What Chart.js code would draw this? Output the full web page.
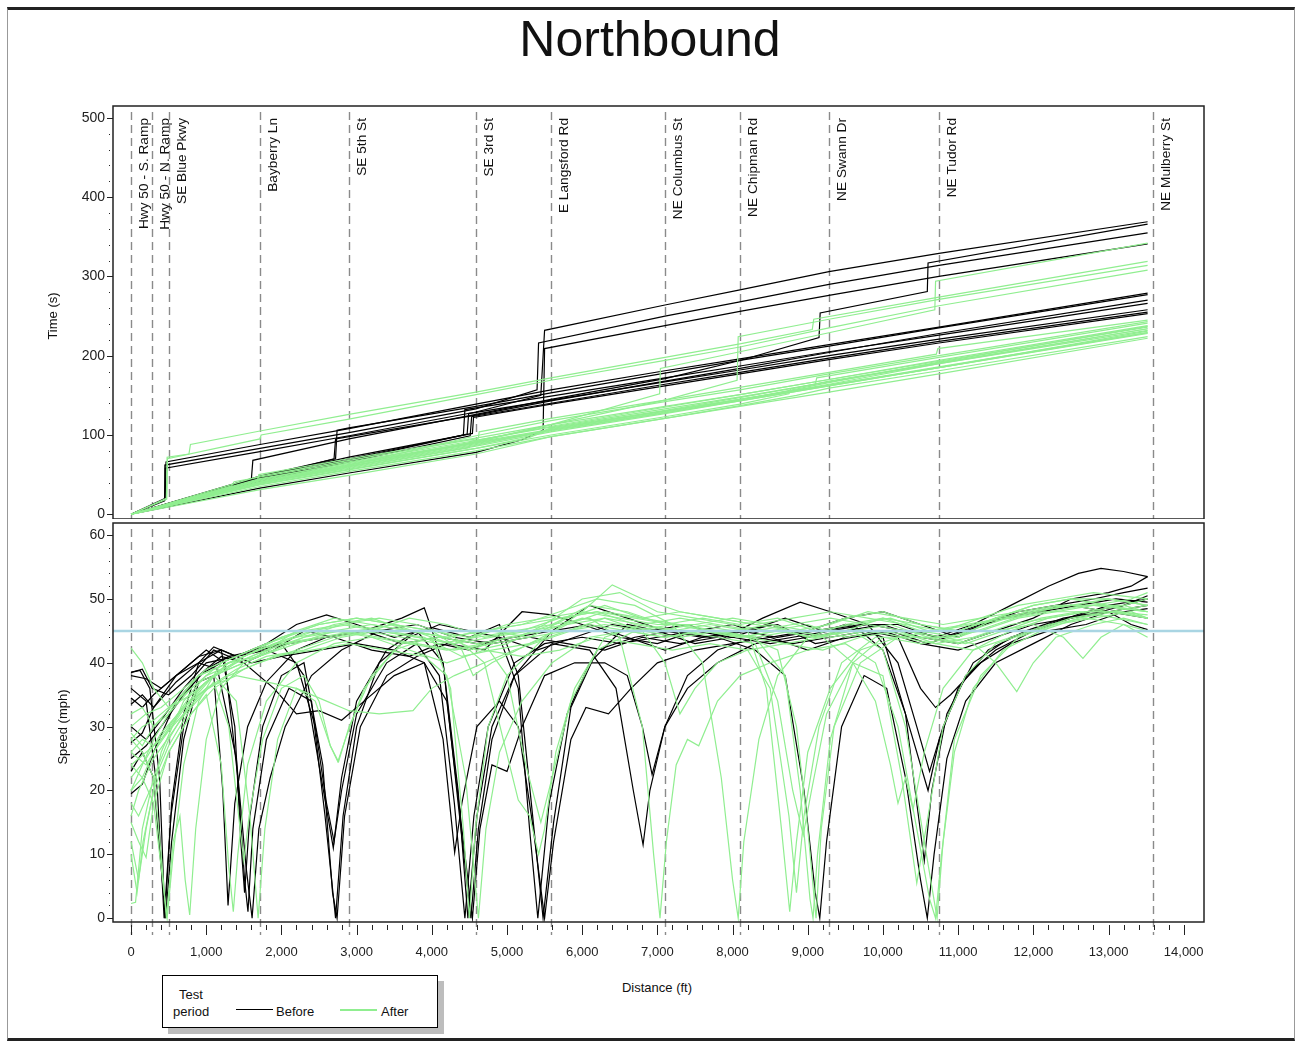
<!DOCTYPE html>
<html>
<head>
<meta charset="utf-8">
<script src="https://cdn.jsdelivr.net/npm/chart.js@4.4.1/dist/chart.umd.min.js"></script>
<style>
	html, body { margin: 0; padding: 0; background: #fff; }
	body { width: 1295px; height: 1045px; position: relative; overflow: hidden; font-family: "Liberation Sans", Arial, sans-serif; color: #111; }
	#frame { position: absolute; left: 7px; top: 7px; width: 1286px; height: 1028px; border-top: 3px solid #222; border-bottom: 3px solid #222; border-left: 1px solid #999; border-right: 1px solid #999; }
	#title { position: absolute; left: 0; width: 1300px; top: 14px; line-height: 50px; font-size: 50px; text-align: center; }
	canvas { position: absolute; left: 0; }
	#chart-time { top: 100px; }
	#chart-speed { top: 520px; }
	.axis-title { position: absolute; font-size: 13px; white-space: nowrap; transform: translate(-50%, -50%); }
	.rot { transform: translate(-50%, -50%) rotate(-90deg); }
	#legend { position: absolute; left: 162px; top: 975px; width: 274px; height: 51px; border: 1px solid #000; background: #fff; box-shadow: 6px 6px 0 #bdbdbd; }
	#legend span { position: absolute; font-size: 13px; line-height: 15px; white-space: nowrap; }
	#legend i { position: absolute; height: 0; width: 37px; }
</style>
</head>
<body>
<div id="frame"></div>
<div id="title">Northbound</div>
<canvas id="chart-time" width="1230" height="419"></canvas>
<canvas id="chart-speed" width="1230" height="450"></canvas>
<div class="axis-title rot" style="left:52px; top:316px;">Time (s)</div>
<div class="axis-title rot" style="left:62px; top:727px;">Speed (mph)</div>
<div class="axis-title" style="left:657px; top:987px;">Distance (ft)</div>
<div id="legend">
	<span style="left:16px; top:11px;">Test</span>
	<span style="left:10px; top:28px;">period</span>
	<i style="left:73px; top:33px; border-top:1.5px solid #000;"></i>
	<span style="left:113px; top:28px;">Before</span>
	<i style="left:177px; top:33px; border-top:2px solid #90ee90;"></i>
	<span style="left:218px; top:28px;">After</span>
</div>
<script>
// Cross streets along the corridor (ft)
const ROAD_DIST = [0, 279, 505, 1715, 2899, 4588, 5585, 7101, 8098, 9282, 10745, 13590];
const ROAD_NAMES = ["Hwy 50 - S. Ramp", "Hwy 50 - N. Ramp", "SE Blue Pkwy", "Bayberry Ln", "SE 5th St", "SE 3rd St", "E Langsford Rd", "NE Columbus St", "NE Chipman Rd", "NE Swann Dr", "NE Tudor Rd", "NE Mulberry St"];

// Axis ticks
const DIST_TICKS = [0, 1000, 2000, 3000, 4000, 5000, 6000, 7000, 8000, 9000, 10000, 11000, 12000, 13000, 14000];
const TIME_TICKS = [0, 100, 200, 300, 400, 500];
const SPEED_TICKS = [0, 10, 20, 30, 40, 50, 60];
const SPEED_LIMIT = 45;

// Before runs: [distance ft, elapsed time s]
const BEFORE_TIME = [
	[[0,0],[445,17],[455,58],[1715,79],[2899,99],[4588,129],[5450,150],[5500,232],[7101,264],[8098,283],[9282,306],[10745,329],[13520,369]],
	[[0,0],[440,18],[450,62],[1715,83],[2899,103],[4588,133],[5400,157],[5420,216],[7101,250],[8098,268],[9282,290],[10745,314],[13520,355]],
	[[0,0],[1715,33],[2899,52],[4588,78],[5200,94],[5480,106],[5500,209],[7101,238],[8098,256],[9282,276],[10745,300],[13520,341]],
	[[0,0],[1600,44],[1620,68],[2899,95],[4588,126],[5585,145],[7101,171],[8098,194],[9150,223],[9165,254],[10590,281],[10600,317],[13520,366]],
	[[0,0],[455,20],[465,66],[1715,88],[2899,108],[4588,139],[5585,157],[7101,181],[8098,196],[9282,214],[10745,236],[13520,279]],
	[[0,0],[1715,48],[2720,70],[2740,106],[2899,109],[4588,136],[5585,153],[7101,178],[8098,194],[9282,212],[10745,235],[13520,277]],
	[[0,0],[1715,46],[2700,70],[2720,95],[2899,98],[4588,125],[5585,143],[7101,168],[8098,184],[9282,204],[10745,228],[13520,270]],
	[[0,0],[1715,45],[2899,70],[4420,100],[4440,132],[5585,149],[7101,172],[8098,187],[9282,205],[10745,226],[13520,266]],
	[[0,0],[1715,44],[2899,68],[4470,101],[4490,127],[5585,144],[7101,167],[8098,182],[9282,200],[10745,221],[13520,258]],
	[[0,0],[1715,42],[2899,66],[4510,99],[4530,123],[5585,140],[7101,164],[8098,179],[9282,197],[10745,218],[13520,255]],
	[[0,0],[1715,47],[2899,72],[4540,102],[4555,122],[5585,139],[7101,162],[8098,177],[9282,195],[10745,216],[13520,253]],
];

// After runs: [distance ft, elapsed time s]
const AFTER_TIME = [
	[[0,0],[470,20],[480,72],[770,76],[790,88],[1715,105],[2899,126],[4588,154],[5585,172],[7101,198],[8098,215],[9060,233],[9080,246],[10745,274],[13520,319]],
	[[0,0],[475,19],[485,70],[1715,95],[1730,100],[2899,120],[4588,151],[5585,169],[7101,194],[8098,211],[9282,235],[10745,263],[13520,308]],
	[[0,0],[1715,42],[2899,62],[4588,92],[5585,113],[7101,144],[8060,169],[8075,224],[9282,246],[10745,271],[13520,314]],
	[[0,0],[1715,40],[2899,60],[4588,91],[5585,113],[7030,152],[7040,184],[8098,205],[9282,229],[10690,258],[10700,294],[13520,342]],
	[[0,0],[1715,31],[2899,49],[4588,76],[5585,98],[7101,121],[8098,136],[9282,154],[10745,177],[13520,222]],
	[[0,0],[1715,40],[2899,58],[4500,84],[4510,92],[5585,110],[7101,133],[8098,148],[9282,167],[10745,190],[13520,232]],
	[[0,0],[1340,36],[1370,41],[1715,47],[2899,66],[4588,93],[5585,111],[7101,135],[8098,151],[9282,170],[10745,194],[13520,238]],
	[[0,0],[1715,44],[2899,65],[4588,91],[5585,107],[7101,130],[8098,145],[9282,163],[10745,185],[13520,228]],
	[[0,0],[1680,42],[1700,50],[2899,70],[4588,96],[5585,113],[7101,136],[8098,151],[9282,170],[10745,193],[13520,236]],
	[[0,0],[1715,40],[2899,62],[4588,99],[5585,118],[7101,142],[8098,157],[9282,177],[10745,200],[13520,243]],
	[[0,0],[1715,38],[2899,57],[4588,83],[5300,97],[5585,108],[7101,130],[8098,145],[9282,163],[10745,186],[13520,229]],
	[[0,0],[1715,37],[2899,56],[4588,83],[5585,100],[7101,123],[8098,139],[8750,152],[8770,158],[9282,168],[10745,191],[13520,234]],
	[[0,0],[1715,41],[2899,61],[4588,88],[5585,105],[7101,128],[8098,144],[9282,166],[10745,192],[13520,237]],
	[[0,0],[1715,45],[2899,64],[4588,90],[5585,106],[7101,129],[8098,145],[9282,164],[10745,190],[13520,234]],
	[[0,0],[1715,39],[2899,59],[4588,86],[5585,104],[7101,127],[8098,143],[9282,162],[10745,185],[13520,231]],
	[[0,0],[1715,43],[2899,63],[4588,89],[5585,106],[7101,128],[8098,143],[9282,162],[10745,185],[13520,229]],
	[[0,0],[1715,48],[2899,68],[4588,95],[4620,96],[4630,104],[5585,121],[7101,144],[8098,160],[9282,179],[10710,202],[10730,209],[13520,245]],
	[[0,0],[1715,35],[2899,54],[4588,80],[5585,98],[7101,121],[8098,137],[8850,150],[9282,159],[10745,181],[13520,224]],
	[[0,0],[1715,40],[2899,60],[4588,87],[5450,104],[5585,109],[7101,131],[8098,147],[9100,164],[9120,172],[10745,198],[13520,241]],
];

// Before runs: [distance ft, speed mph]
const BEFORE_SPEED = [
	[[0,38.5],[120,38.8],[250,36],[380,22],[450,0],[540,18],[700,32],[900,40],[1100,42.5],[1400,41],[1800,43],[2200,46],[2600,47.5],[3000,46],[3500,44],[4000,45.5],[4500,44],[4900,46],[5150,38],[5350,15],[5480,0],[5620,15],[5850,33],[6200,42],[6700,44],[7200,45],[7700,44],[8200,45],[8700,47],[9200,45],[9700,46],[10200,46],[10700,44],[11200,46],[11700,49],[12200,52],[12600,54],[12900,54.8],[13200,54.3],[13520,53.5]],
	[[0,36],[200,34],[350,20],[440,0],[530,16],[700,30],[900,38],[1200,41],[1500,40],[1900,42],[2300,45],[2700,44],[3200,42],[3700,41],[4100,43],[4500,42],[4900,44],[5150,36],[5300,14],[5410,0],[5560,18],[5800,32],[6100,40],[6600,46],[7000,45],[7500,43],[8000,44],[8500,43],[9000,44],[9500,45],[10000,46],[10500,44],[11000,43],[11500,45],[12000,47],[12500,50],[13000,51],[13300,52],[13520,53.5]],
	[[0,34.5],[150,33],[300,35],[600,38],[900,40],[1200,42],[1600,40],[2000,41],[2500,42],[3000,43],[3500,42],[3900,40],[4150,28],[4304,10.3],[4400,18],[4600,30],[4900,34],[5150,30],[5350,14],[5500,0],[5620,12],[5850,28],[6050,33],[6350,32],[6650,36],[7000,40],[7500,42],[8000,43],[8500,44],[9000,42],[9500,44],[10000,45],[10500,43],[11000,42],[11500,44],[12000,46],[12500,47],[13000,48],[13520,47]],
	[[0,27.5],[150,29],[300,33],[600,37],[900,40],[1150,39],[1400,25],[1530,8],[1610,0],[1700,14],[1850,22],[2050,30],[2400,38],[2800,42],[3300,45],[3800,46],[4300,44],[4800,43],[5300,44],[5800,43],[6300,42],[6800,44],[7300,43],[7800,44],[8300,42],[8700,38],[8950,20],[9100,4],[9160,0],[9250,12],[9450,30],[9750,38],[10050,36],[10300,22],[10500,6],[10590,0],[10680,10],[10850,25],[11100,34],[11500,40],[12000,43],[12500,46],[13000,48],[13520,49]],
	[[0,23],[150,26],[300,22],[400,8],[460,0],[540,12],[700,28],[900,37],[1100,38],[1220,20],[1290,2],[1380,18],[1550,30],[1800,37],[2200,42],[2600,44],[3100,45],[3600,43],[4100,44],[4600,43],[5100,44],[5600,45],[6100,46],[6600,44],[7100,42],[7600,44],[8100,45],[8600,46],[9100,43],[9600,44],[10100,45],[10600,43],[11100,45],[11600,47],[12100,48],[12600,49],[13100,50],[13520,49.5]],
	[[0,33.5],[150,35],[300,33],[600,38],[900,41],[1200,42],[1380,30],[1460,12],[1510,4],[1580,16],[1750,30],[2000,38],[2300,40],[2550,24],[2680,4],[2740,0],[2840,16],[3050,30],[3400,38],[3800,41],[4200,43],[4700,42],[5200,48],[5600,47.5],[6000,46],[6500,44],[7000,43],[7500,45],[8000,46],[8500,44],[9000,45],[9500,47],[10000,48],[10500,46],[11000,44],[11500,47],[12000,48],[12500,49],[13000,48],[13300,46],[13520,45.2]],
	[[0,38],[200,37.5],[400,36],[700,39],[1000,42],[1250,40],[1420,22],[1510,6],[1555,1],[1620,14],[1800,28],[2100,36],[2400,34],[2580,16],[2720,0],[2820,16],[3000,30],[3300,40],[3700,44],[4100,46],[4500,45],[4900,44],[5400,42],[5900,44],[6400,46],[6900,45],[7400,46],[7900,44],[8400,47],[8900,49.5],[9300,48],[9800,46],[10300,45],[10800,44],[11300,46],[11800,48],[12300,49],[12800,50],[13200,51],[13520,51.7]],
	[[0,30],[200,28],[400,31],[700,36],[1000,40],[1400,41],[1800,42],[2200,40],[2450,30],[2600,18],[2700,12],[2800,20],[3000,32],[3400,40],[3800,43],[4100,38],[4300,18],[4440,0],[4560,16],[4750,30],[5100,40],[5500,43],[6000,44],[6500,43],[7000,44],[7500,45],[8000,44],[8500,46],[9000,44],[9500,46],[10000,44],[10300,32],[10450,18],[10550,9],[10650,20],[10850,32],[11200,40],[11700,44],[12200,46],[12700,48],[13200,49],[13520,50.5]],
	[[0,19.5],[150,21],[300,26],[600,34],[900,38],[1200,40],[1600,42],[2000,43],[2300,38],[2500,24],[2690,11],[2800,22],[3000,34],[3400,42],[3800,45],[4150,40],[4350,20],[4480,0],[4600,16],[4800,30],[5100,38],[5600,45],[6100,49],[6600,47],[7100,45],[7600,44],[8100,45],[8600,44],[9100,45],[9600,46],[10000,42],[10300,32],[10600,20],[10750,28],[11000,36],[11400,42],[11900,45],[12400,47],[12900,48],[13520,50]],
	[[0,25],[200,27],[400,30],[700,35],[1000,39],[1300,41],[1700,42],[2100,43],[2600,44],[3100,45],[3600,47],[3900,48.6],[4150,40],[4350,18],[4520,0],[4620,14],[4800,28],[5100,38],[5600,43],[6100,42],[6450,36],[6680,20],[6810,11.5],[6900,20],[7100,30],[7400,36],[7800,40],[8300,43],[8800,44],[9300,45],[9800,46],[10200,40],[10450,30],[10620,23],[10800,30],[11100,38],[11500,42],[12000,45],[12500,47],[13000,49],[13520,50]],
	[[0,38.5],[150,39],[280,36],[500,35],[800,38],[1100,42],[1500,40],[1900,36],[2200,32],[2500,32.5],[2800,31],[3100,34],[3500,38],[3900,40],[4200,34],[4400,14],[4540,0],[4640,14],[4800,24],[5000,23],[5200,30],[5500,38],[5900,40],[6300,40],[6600,38],[6800,30],[6930,22.5],[7100,30],[7400,38],[7800,42],[8300,44],[8800,43],[9300,44],[9800,45],[10200,44],[10500,36],[10700,33],[10900,35],[11300,40],[11700,43],[12200,45],[12700,46],[13200,48],[13520,48.5]],
];

// After runs: [distance ft, speed mph]
const AFTER_SPEED = [
	[[0,28],[150,26],[300,22],[400,10],[470,0],[560,12],[650,16],[720,6],[780,0.5],[860,14],[1000,28],[1200,36],[1500,40],[1900,42],[2300,44],[2800,46],[3300,45],[3800,44],[4300,43],[4800,45],[5300,44],[5800,47],[6300,49],[6800,47],[7300,46],[7800,45],[8300,44],[8700,38],[8900,20],[9030,3],[9070,0],[9130,10],[9300,28],[9600,40],[10000,44],[10500,43],[11000,44],[11500,46],[12000,48],[12500,49],[13000,48],[13520,47]],
	[[0,24],[150,22],[300,18],[420,6],[480,0],[560,10],[700,24],[900,34],[1200,40],[1600,42],[2000,44],[2500,46],[3000,47],[3500,46],[4000,45],[4500,44],[5000,46],[5500,47],[6000,48],[6500,47],[7000,46],[7500,46],[8000,45],[8500,46],[9000,44],[9500,45],[10000,47],[10500,45],[11000,44],[11500,47],[12000,49],[12500,50],[13000,49],[13520,48]],
	[[0,12],[100,6],[200,14],[400,26],[700,34],[1000,38],[1400,40],[1800,42],[2200,45],[2700,47],[3200,46],[3700,45],[4200,44],[4700,45],[5200,46],[5700,48],[6200,50],[6700,49],[7200,46],[7600,40],[7850,22],[8000,6],[8075,0],[8150,12],[8350,28],[8600,38],[9000,44],[9500,46],[10000,47],[10500,46],[11000,45],[11500,47],[12000,49],[12500,50],[13000,50],[13520,49]],
	[[0,20],[150,24],[300,28],[600,34],[900,38],[1300,40],[1700,41],[2100,43],[2600,44],[3100,45],[3600,44],[4100,43],[4600,44],[5100,45],[5600,46],[6100,47],[6500,44],[6800,30],[6950,10],[7035,0],[7120,12],[7250,24],[7400,28],[7550,27],[7800,34],[8100,38],[8500,40],[9000,42],[9500,43],[9900,40],[10200,30],[10450,14],[10620,3],[10700,0],[10780,10],[10950,26],[11200,36],[11600,42],[12100,45],[12600,47],[13100,48],[13520,47.5]],
	[[0,42.3],[150,40],[300,36],[500,33],[800,35],[1100,38],[1500,40],[2000,43],[2500,44],[3000,45],[3500,46],[4000,45],[4400,42],[4550,38],[4800,40],[5300,43],[5800,46],[6300,48],[6800,47],[7300,48],[7800,47],[8300,46],[8800,47],[9300,48],[9800,47],[10300,46],[10800,45],[11300,47],[11800,49],[12300,50],[12800,51],[13520,50]],
	[[0,2.3],[60,2.5],[150,14],[300,22],[500,28],[800,34],[1100,38],[1500,41],[2000,44],[2500,46],[3000,47],[3500,46],[4000,44],[4250,36],[4420,14],[4500,0],[4580,14],[4750,30],[5000,38],[5500,44],[6000,48],[6400,52.2],[6800,50],[7300,48],[7800,47],[8300,46],[8800,45],[9300,46],[9800,48],[10300,47],[10800,46],[11300,47],[11800,48],[12300,49],[12800,49],[13520,48]],
	[[0,15],[100,12],[200,9.5],[300,18],[500,26],[800,32],[1000,35],[1200,24],[1300,8],[1360,1],[1420,10],[1550,24],[1800,34],[2200,40],[2700,43],[3200,44],[3700,42],[4200,40],[4700,42],[5200,41],[5700,42],[6200,44],[6700,43],[7200,42],[7700,43],[8200,42],[8700,43],[9200,42],[9700,44],[10200,45],[10700,43],[11200,42],[11700,44],[12200,46],[12700,47],[13200,46],[13520,45]],
	[[0,18],[100,16],[250,20],[500,27],[800,33],[1100,37],[1300,30],[1450,14],[1500,9],[1570,16],[1750,28],[2000,36],[2300,38],[2500,34],[2650,27],[2750,24.5],[2850,28],[3100,36],[3500,42],[4000,44],[4500,42],[5000,44],[5500,45],[6000,47],[6500,46],[7000,45],[7500,46],[8000,47],[8500,46],[9000,45],[9500,47],[10000,48],[10500,46],[11000,45],[11500,47],[12000,48],[12500,49],[13000,50],[13520,49]],
	[[0,26],[150,28],[300,27],[500,30],[800,35],[1100,38],[1400,34],[1580,16],[1690,0],[1780,14],[1950,28],[2200,36],[2450,34],[2650,27],[2760,24.5],[2900,30],[3200,38],[3600,43],[4100,44],[4600,43],[5100,44],[5600,46],[6100,49],[6600,48],[7100,46],[7600,47],[8100,46],[8600,47],[9100,45],[9600,46],[10100,47],[10600,45],[11100,46],[11600,47],[12100,48],[12600,48],[13100,47],[13520,46]],
	[[0,22],[200,25],[400,29],[700,33],[1000,36],[1400,38],[1800,37],[2200,36],[2600,34],[2900,32.5],[3300,32],[3750,32.5],[4000,36],[4300,38],[4700,40],[5100,42],[5600,44],[6100,46],[6600,45],[7100,44],[7600,45],[8100,44],[8600,45],[9100,44],[9600,45],[10100,46],[10600,44],[11100,43],[11600,45],[12100,47],[12600,48],[13100,48],[13520,47]],
	[[0,30],[200,32],[400,33],[700,36],[1000,39],[1400,41],[1800,43],[2300,45],[2800,46],[3300,47],[3800,46],[4300,44],[4700,40],[4950,28],[5150,18.5],[5300,16],[5420,10],[5500,14],[5650,26],[5900,36],[6300,44],[6800,46],[7300,47],[7800,46],[8300,45],[8800,46],[9300,47],[9800,46],[10300,45],[10800,44],[11300,45],[11800,47],[12300,48],[12800,49],[13300,50],[13520,51]],
	[[0,28],[150,30],[300,31],[600,34],[900,37],[1300,39],[1700,41],[2200,43],[2700,45],[3200,46],[3700,45],[4200,44],[4700,45],[5200,46],[5700,47],[6200,48],[6700,46],[7200,45],[7700,46],[8200,45],[8450,36],[8650,14],[8760,1],[8850,12],[9000,26],[9300,36],[9700,42],[10200,44],[10700,43],[11200,44],[11700,46],[12200,47],[12700,48],[13200,48],[13520,47]],
	[[0,24],[200,26],[400,28],[700,32],[1000,36],[1400,39],[1800,41],[2300,42],[2800,44],[3300,45],[3800,44],[4300,43],[4800,44],[5300,45],[5800,46],[6300,47],[6800,46],[7300,45],[7800,44],[8300,43],[8600,34],[8800,20],[8940,13],[9050,20],[9250,32],[9600,40],[10000,38],[10250,22],[10450,5.5],[10600,16],[10800,30],[11100,38],[11500,43],[12000,45],[12500,47],[13000,48],[13520,49]],
	[[0,16],[100,20],[300,25],[600,30],[900,35],[1300,38],[1700,40],[2200,42],[2700,44],[3200,45],[3700,47],[4200,46],[4700,44],[5200,45],[5700,47],[6200,48],[6700,47],[7200,46],[7700,45],[8200,44],[8700,43],[9200,44],[9600,40],[9900,34],[10100,24],[10200,18],[10300,22],[10400,17],[10550,26],[10800,36],[11200,42],[11700,45],[12200,47],[12700,48],[13200,49],[13520,48]],
	[[0,26],[200,24],[400,28],[700,33],[1000,37],[1400,40],[1800,42],[2300,44],[2800,45],[3300,44],[3800,43],[4300,42],[4800,43],[5300,44],[5800,45],[6300,46],[6800,45],[7300,44],[7800,45],[8300,44],[8800,45],[9300,44],[9800,45],[10300,44],[10800,44],[11200,43],[11500,40],[11780,35.5],[12000,40],[12300,44],[12800,46],[13200,47],[13520,46]],
	[[0,20],[150,22],[300,26],[600,31],[900,36],[1300,40],[1700,42],[2200,44],[2700,46],[3200,47],[3700,45],[4200,44],[4600,42],[5000,43],[5500,46],[6000,50],[6500,51],[7000,48],[7500,47],[8000,46],[8500,45],[9000,46],[9500,44],[10000,45],[10500,44],[11000,43],[11500,45],[12000,46],[12400,44],[12660,40.7],[12900,44],[13200,46],[13520,44]],
	[[0,10],[80,4],[160,12],[300,20],[500,26],[800,32],[1100,36],[1500,39],[1900,41],[2400,42],[2900,43],[3400,42],[3900,41],[4200,38],[4450,22],[4620,0],[4720,14],[4900,26],[5200,34],[5600,40],[6100,44],[6600,45],[7100,44],[7600,45],[8100,44],[8600,45],[9100,44],[9600,45],[10000,42],[10300,30],[10550,12],[10720,0],[10800,12],[10950,28],[11300,38],[11800,44],[12300,46],[12800,47],[13300,48],[13520,47]],
	[[0,32],[150,33],[300,30],[500,32],[800,36],[1100,39],[1500,41],[1900,43],[2400,45],[2900,46],[3400,45],[3900,44],[4400,41],[4800,42],[5300,43],[5800,45],[6300,47],[6800,45],[7100,40],[7300,32],[7500,36],[7800,40],[8200,42],[8500,36],[8750,16],[8850,4],[8950,16],[9150,30],[9450,40],[9900,44],[10400,44],[10900,44],[11400,46],[11900,48],[12400,49],[12900,49],[13520,48]],
	[[0,29],[150,27],[300,30],[600,34],[900,38],[1300,40],[1700,42],[2200,44],[2700,45],[3200,44],[3700,43],[4200,42],[4700,43],[5000,38],[5250,24],[5450,15],[5600,22],[5850,34],[6200,42],[6700,45],[7200,46],[7700,45],[8200,44],[8600,42],[8850,30],[9000,14],[9110,0],[9180,14],[9350,30],[9700,40],[10200,44],[10700,45],[11200,46],[11700,47],[12200,48],[12700,49],[13200,49],[13520,50]],
];

const BEFORE_COLOR = "#000000";
const AFTER_COLOR = "#90ee90";
const FONT = "Liberation Sans";

//---------------------------------------------------------
// Helpers
//---------------------------------------------------------
const toDatasets = (runs, color, order) =>
	runs.map((run) => ({
		data: run.map(([x, y]) => ({ x, y })),
		borderColor: color,
		borderWidth: 1.2,
		pointRadius: 0,
		tension: 0,
		fill: false,
		order: order,
	}));

const fixedTicks = (values) => (scale) => {
	scale.ticks = values.map((v) => ({ value: v }));
};

// Frame, street lines, tick marks and street names
const panelDecor = (opts) => ({
	id: "panelDecor",
	beforeDatasetsDraw(chart) {
		const { ctx, chartArea: a, scales } = chart;
		ctx.save();
		ctx.strokeStyle = "#8a8a8a";
		ctx.lineWidth = 1.4;
		ctx.setLineDash([8, 5]);
		ROAD_DIST.forEach((d) => {
			const px = Math.round(scales.x.getPixelForValue(d)) + 0.5;
			ctx.beginPath();
			ctx.moveTo(px, a.top + 6);
			ctx.lineTo(px, a.bottom + opts.dashBelow);
			ctx.stroke();
		});
		ctx.restore();
	},
	afterDatasetsDraw(chart) {
		const { ctx, chartArea: a, scales } = chart;
		ctx.save();
		if (opts.limit) {
			const py = scales.y.getPixelForValue(SPEED_LIMIT);
			ctx.strokeStyle = "#a9d5e3";
			ctx.lineWidth = 2.5;
			ctx.beginPath();
			ctx.moveTo(a.left, py);
			ctx.lineTo(a.right, py);
			ctx.stroke();
		}
		if (opts.names) {
			ctx.fillStyle = "#111";
			ctx.font = `13.7px "${FONT}"`;
			ctx.textAlign = "right";
			ctx.textBaseline = "middle";
			ROAD_DIST.forEach((d, i) => {
				const px = scales.x.getPixelForValue(d) + 13;
				ctx.save();
				ctx.translate(px, a.top + 12);
				ctx.rotate(-Math.PI / 2);
				ctx.fillText(ROAD_NAMES[i], 0, 0);
				ctx.restore();
			});
		}
		ctx.restore();
	},
	afterDraw(chart) {
		const { ctx, chartArea: a, scales } = chart;
		ctx.save();
		ctx.strokeStyle = "#222";
		ctx.lineWidth = 1.5;
		ctx.strokeRect(a.left, a.top, a.right - a.left, a.bottom - a.top);
		// y ticks
		ctx.lineWidth = 1;
		const y = scales.y;
		for (let v = opts.yMin; v <= opts.yMax; v += opts.yMinor) {
			const py = Math.round(y.getPixelForValue(v)) + 0.5;
			const major = v % opts.yMajor === 0;
			ctx.beginPath();
			ctx.moveTo(a.left - (major ? 6 : 4), py);
			ctx.lineTo(a.left - (major ? 0 : 3), py);
			ctx.stroke();
		}
		// x ticks
		if (opts.xTicks) {
			for (let v = 0; v <= 14000; v += 200) {
				const px = Math.round(scales.x.getPixelForValue(v)) + 0.5;
				const major = v % 1000 === 0;
				ctx.beginPath();
				ctx.moveTo(px, a.bottom + 3);
				ctx.lineTo(px, a.bottom + (major ? 13 : 8));
				ctx.stroke();
			}
		}
		ctx.restore();
	},
});

const yAxis = (min, max, ticks) => ({
	type: "linear",
	min: min,
	max: max,
	afterBuildTicks: fixedTicks(ticks),
	afterFit: (scale) => {
		scale.width = 113;
		scale.paddingTop = 0;
		scale.paddingBottom = 0;
	},
	border: { display: false },
	grid: { display: false, drawTicks: false },
	ticks: { padding: 8, color: "#222", font: { family: FONT, size: 14 } },
});

//---------------------------------------------------------
// Chart: time
//---------------------------------------------------------
const TIME_CONFIG = {
	type: "line",
	data: {
		datasets: [...toDatasets(AFTER_TIME, AFTER_COLOR, 0), ...toDatasets(BEFORE_TIME, BEFORE_COLOR, 1)],
	},
	options: {
		responsive: false,
		animation: false,
		layout: { padding: { top: 6, right: 26, left: 0, bottom: 0 } },
		scales: {
			x: { type: "linear", min: -240, max: 14270, display: false },
			y: yAxis(-6, 515, TIME_TICKS),
		},
		plugins: { legend: { display: false }, tooltip: { enabled: false } },
	},
	plugins: [panelDecor({ names: true, limit: false, xTicks: false, dashBelow: 0, yMin: 0, yMax: 500, yMinor: 20, yMajor: 100 })],
};

//---------------------------------------------------------
// Chart: speed
//---------------------------------------------------------
const SPEED_CONFIG = {
	type: "line",
	data: {
		datasets: [...toDatasets(AFTER_SPEED, AFTER_COLOR, 0), ...toDatasets(BEFORE_SPEED, BEFORE_COLOR, 1)],
	},
	options: {
		responsive: false,
		animation: false,
		layout: { padding: { top: 3, right: 26, left: 0, bottom: 0 } },
		scales: {
			x: {
				type: "linear",
				min: -240,
				max: 14270,
				afterBuildTicks: fixedTicks(DIST_TICKS),
				afterFit: (scale) => {
					scale.height = 48;
					scale.paddingLeft = 0;
					scale.paddingRight = 0;
				},
				border: { display: false },
				grid: { display: false, drawTicks: false },
				ticks: {
					padding: 23,
					maxRotation: 0,
					autoSkip: false,
					color: "#222",
					font: { family: FONT, size: 13 },
					callback: (value) => value.toLocaleString("en-US"),
				},
			},
			y: yAxis(-0.6, 61.9, SPEED_TICKS),
		},
		plugins: { legend: { display: false }, tooltip: { enabled: false } },
	},
	plugins: [panelDecor({ names: false, limit: true, xTicks: true, dashBelow: 13, yMin: 0, yMax: 60, yMinor: 2, yMajor: 10 })],
};

new Chart(document.getElementById("chart-time"), TIME_CONFIG);
new Chart(document.getElementById("chart-speed"), SPEED_CONFIG);
</script>
</body>
</html>
